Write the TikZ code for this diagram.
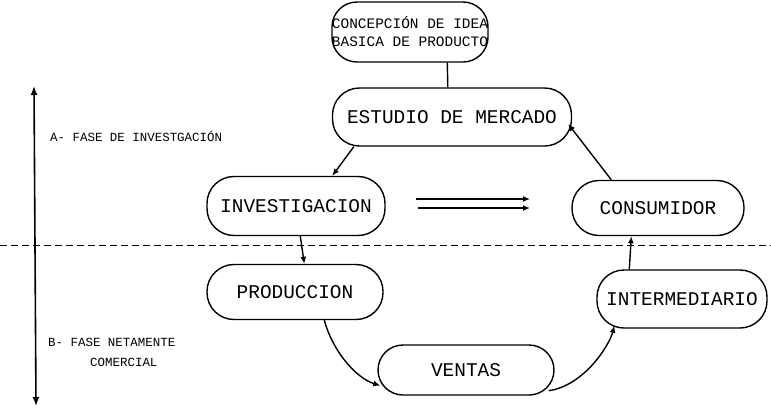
\documentclass[tikz,border=0pt]{standalone}
\usepackage{fontspec}
\setmainfont{Liberation Mono}
\usetikzlibrary{arrows.meta,calc}
\begin{document}
\begin{tikzpicture}[x=1bp,y=-1bp,
  box/.style={draw,line width=1.4bp,rounded corners=27bp,inner sep=0pt,font=\fontsize{19.5}{20}\selectfont},
  conn/.style={line width=1.4bp},
  arr/.style={line width=1.4bp,-{Latex[length=7bp,width=6bp]}},
  lbl/.style={font=\fontsize{12.5}{15}\selectfont,inner sep=0pt,anchor=west}]
\useasboundingbox (0,0) rectangle (771,408);
\node[box,rounded corners=25bp,minimum width=155bp,minimum height=60bp,align=center,font=\fontsize{14.5}{18}\selectfont] (con) at (410,32) {CONCEPCIÓN DE IDEA\\BASICA DE PRODUCTO};
\node[box,minimum width=239bp,minimum height=58bp] (est) at (452,117) {ESTUDIO DE MERCADO};
\node[box,minimum width=178bp,minimum height=59bp] (inv) at (296,206) {INVESTIGACION};
\node[box,minimum width=172bp,minimum height=55bp] (cns) at (658,208) {CONSUMIDOR};
\node[box,minimum width=176bp,minimum height=55bp] (pro) at (295,292) {PRODUCCION};
\node[box,minimum width=170bp,minimum height=58bp] (itm) at (682,299) {INTERMEDIARIO};
\node[box,rounded corners=25bp,minimum width=176bp,minimum height=50bp] (ven) at (466,370) {VENTAS};
\node[lbl] (la) at (50,136) {A- FASE DE INVESTGACIÓN};
\node[lbl] (lb1) at (48,342) {B- FASE NETAMENTE};
\node[lbl] (lb2) at (90,362) {COMERCIAL};
% connectors
\draw[conn] ([xshift=116bp]con.south west) -- ([xshift=116bp]est.north west);
\draw[arr] ([xshift=22bp]est.south west) -- ([xshift=126bp]inv.north west);
\draw[arr] ([xshift=94bp]inv.south west) -- ([xshift=98bp]pro.north west);
\draw[arr] ([xshift=118bp]pro.south west) .. controls +(8,30) and +(-25,-8) .. ([xshift=3bp,yshift=10bp]ven.south west);
\draw[arr] ([xshift=-6bp,yshift=5bp]ven.south east) .. controls +(35,-5) and +(-5,20) .. ([xshift=18bp,yshift=3bp]itm.south west);
\draw[arr] ([xshift=33bp]itm.north west) -- ([xshift=60bp]cns.south west);
\draw[arr] ([xshift=40bp]cns.north west) -- ([xshift=-4bp,yshift=-7bp]est.east);
% double horizontal arrows
\coordinate (h1a) at (416,199); \coordinate (h1b) at (530,199);
\coordinate (h2a) at (418,208); \coordinate (h2b) at (530,208);
\draw[arr] (h1a) -- (h1b);
\draw[arr] (h2a) -- (h2b);
% dashed separator
\coordinate (d1) at (0,245); \coordinate (d2) at (771,245);
\draw[dashed,line width=1bp,dash pattern=on 7bp off 4bp] (d1) -- (d2);
% vertical phase arrow
\coordinate (v1) at (34,86); \coordinate (v2) at (36,406);
\draw[line width=1.6bp,{Latex[length=9bp,width=7bp]}-{Latex[length=9bp,width=7bp]}] (v1) -- (v2);
\end{tikzpicture}
\end{document}
